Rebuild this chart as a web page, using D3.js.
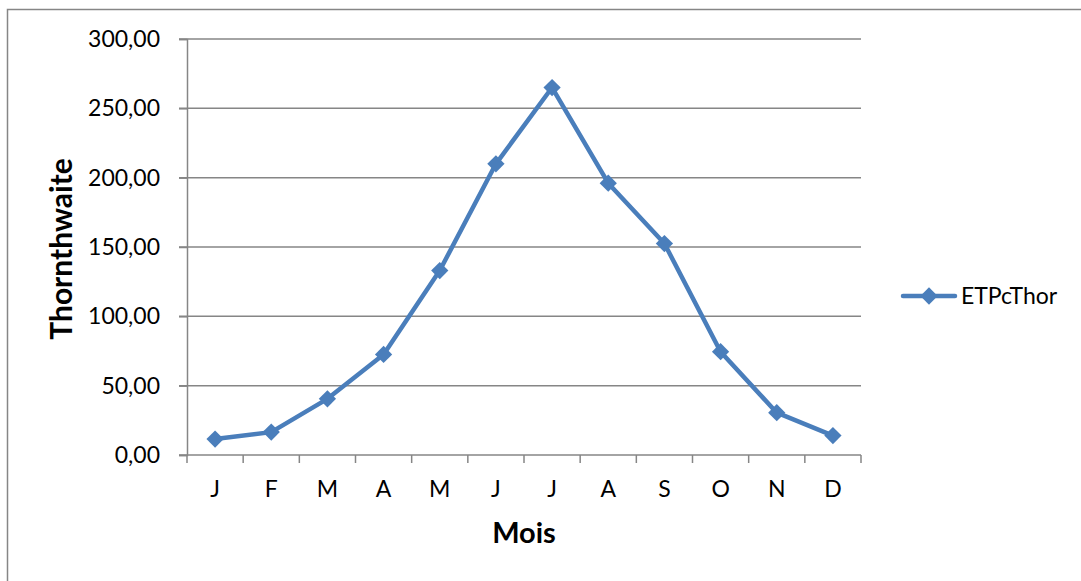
<!DOCTYPE html>
<html>
<head>
<meta charset="utf-8">
<script src="https://cdn.jsdelivr.net/npm/d3@7"></script>
<style>
  body { margin: 0; background: #fff; }
  svg { display: block; font-family: Lato, "Open Sans", sans-serif; }
</style>
</head>
<body>
<svg width="1081" height="581"></svg>
<script>
var months = ["J", "F", "M", "A", "M", "J", "J", "A", "S", "O", "N", "D"];
var etpValues = [11.5, 16.5, 40.5, 72.5, 133.0, 210.0, 265.0, 196.0, 152.5, 74.5, 30.5, 14.0];
var yTicks = [0, 50, 100, 150, 200, 250, 300];
var seriesName = "ETPcThor";

var svg = d3.select("svg");
var plotLeft = 187, plotRight = 861, plotTop = 39, plotBottom = 455;
var blue = "#4a7ebb", grey = "#868686";

// outer chart frame
svg.append("rect")
  .attr("x", 7.5).attr("y", 9.5)
  .attr("width", 1090).attr("height", 590)
  .attr("fill", "none").attr("stroke", grey).attr("stroke-width", 1.5);

var x = d3.scaleBand().domain(d3.range(months.length)).range([plotLeft, plotRight]);
var y = d3.scaleLinear().domain([0, 300]).range([plotBottom, plotTop]);

// gridlines
svg.append("g").selectAll("line")
  .data(yTicks).enter().append("line")
  .attr("x1", plotLeft - 8).attr("x2", plotRight)
  .attr("y1", function(d) { return y(d); })
  .attr("y2", function(d) { return y(d); })
  .attr("stroke", grey).attr("stroke-width", 1.5);

var fmt = function(d) { return d3.format(".2f")(d).replace(".", ","); };

var yAxis = svg.append("g")
  .attr("transform", "translate(" + plotLeft + ",0)")
  .call(d3.axisLeft(y).tickValues(yTicks).tickFormat(fmt).tickSize(8).tickPadding(19));
yAxis.select(".domain").attr("stroke", grey).attr("stroke-width", 1.5);
yAxis.selectAll(".tick line").attr("stroke", grey).attr("stroke-width", 1.5);
yAxis.selectAll("text").attr("font-size", 23).attr("fill", "#000").attr("font-family", "Lato, sans-serif");

var xAxis = svg.append("g")
  .attr("transform", "translate(0," + plotBottom + ")")
  .call(d3.axisBottom(x).tickFormat(function(i) { return months[i]; }).tickSize(0).tickPadding(26));
xAxis.select(".domain").remove();
xAxis.selectAll("text").attr("font-size", 23).attr("fill", "#000").attr("font-family", "Lato, sans-serif");

// category boundary ticks
svg.append("g").selectAll("line")
  .data(d3.range(months.length + 1)).enter().append("line")
  .attr("x1", function(i) { return plotLeft + i * x.bandwidth(); })
  .attr("x2", function(i) { return plotLeft + i * x.bandwidth(); })
  .attr("y1", plotBottom).attr("y2", plotBottom + 8)
  .attr("stroke", grey).attr("stroke-width", 1.5);

var cx = function(d, i) { return x(i) + x.bandwidth() / 2; };

svg.append("path")
  .datum(etpValues)
  .attr("fill", "none").attr("stroke", blue).attr("stroke-width", 4.5)
  .attr("stroke-linejoin", "round")
  .attr("d", d3.line().x(cx).y(function(d) { return y(d); }));

var diamond = d3.symbol().type(d3.symbolDiamond2).size(190);
svg.append("g").selectAll("path")
  .data(etpValues).enter().append("path")
  .attr("d", diamond)
  .attr("transform", function(d, i) { return "translate(" + cx(d, i) + "," + y(d) + ")"; })
  .attr("fill", blue);

// axis titles
svg.append("text")
  .attr("transform", "translate(72," + ((plotTop + plotBottom) / 2 + 2) + ") rotate(-90)")
  .attr("text-anchor", "middle")
  .attr("font-size", 30).attr("font-weight", "bold")
  .text("Thornthwaite");

svg.append("text")
  .attr("x", (plotLeft + plotRight) / 2).attr("y", 543)
  .attr("text-anchor", "middle")
  .attr("font-size", 29).attr("font-weight", "bold")
  .text("Mois");

// legend
var lg = svg.append("g").attr("transform", "translate(903,296)");
lg.append("line").attr("x1", 0).attr("x2", 52).attr("y1", 0).attr("y2", 0)
  .attr("stroke", blue).attr("stroke-width", 4.5).attr("stroke-linecap", "round");
lg.append("path").attr("d", diamond).attr("transform", "translate(26,0)").attr("fill", blue);
lg.append("text").attr("x", 58).attr("y", 8).attr("font-size", 23).text(seriesName);
</script>
</body>
</html>
